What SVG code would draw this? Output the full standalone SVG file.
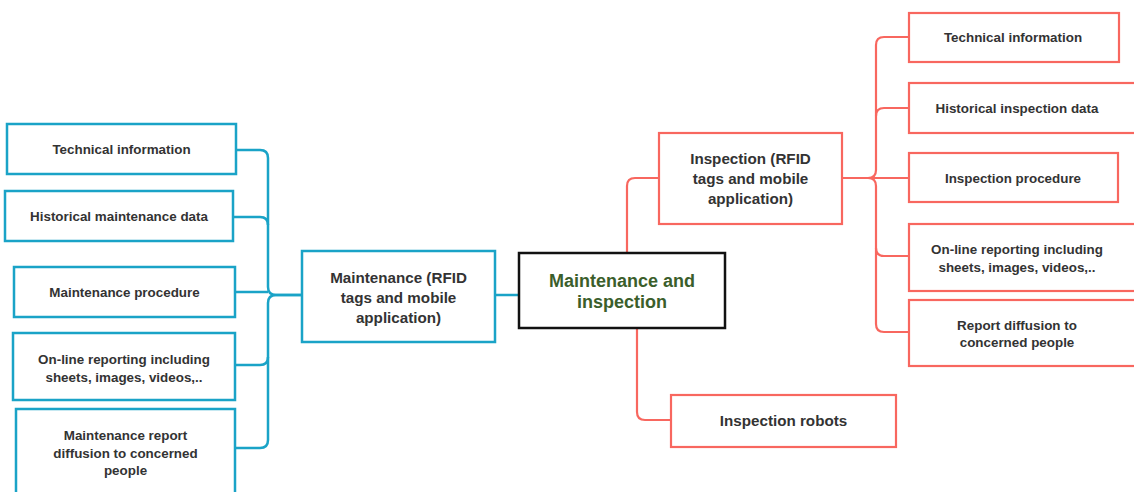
<svg xmlns="http://www.w3.org/2000/svg" width="1134" height="492" viewBox="0 0 1134 492">
<style>
.bg{fill:#ffffff}
.bb{fill:#fff;stroke:#1AA3C7;stroke-width:2.5}
.rb{fill:#fff;stroke:#F8675F;stroke-width:2.2}
.cb{fill:#fff;stroke:#111;stroke-width:2.5}
.bl{fill:none;stroke:#1AA3C7;stroke-width:2.5}
.rl{fill:none;stroke:#F8675F;stroke-width:2.2}
text{font-family:"Liberation Sans",Arial,sans-serif;font-weight:bold;fill:#333;text-anchor:middle}
.s{font-size:13.4px}
.m{font-size:15.2px}
.c{font-size:18px;fill:#3B5E2B}
</style>
<rect class="bg" x="0" y="0" width="1134" height="492"/>
<g id="connectors">
<path class="bl" d="M302 295 H276 Q268 295 268 287 V158 Q268 150 260 150 H236"/>
<path class="bl" d="M268 225 Q268 217 260 217 H233"/>
<path class="bl" d="M268 292 H235"/>
<path class="bl" d="M302 295 H276 Q268 295 268 303 V440 Q268 448 260 448 H235"/>
<path class="bl" d="M268 357 Q268 365 260 365 H235"/>
<path class="bl" d="M495 295 H519"/>
<path class="rl" d="M627 253 V186 Q627 178 635 178 H659"/>
<path class="rl" d="M637 328 V412 Q637 420 645 420 H671"/>
<path class="rl" d="M842 178 H868 Q876 178 876 170 V45 Q876 37 884 37 H909"/>
<path class="rl" d="M876 116 Q876 108 884 108 H909"/>
<path class="rl" d="M842 178 H909"/>
<path class="rl" d="M842 178 H868 Q876 178 876 186 V324 Q876 332 884 332 H909"/>
<path class="rl" d="M876 248 Q876 256 884 256 H909"/>
</g>
<g id="central">
<rect class="cb" x="519" y="253" width="206" height="75"/>
<text class="c" x="622" y="287">Maintenance and</text>
<text class="c" x="622" y="308">inspection</text>
</g>
<g id="maintenance">
<rect class="bb" x="302" y="251" width="193" height="91"/>
<text class="m" x="398.5" y="283">Maintenance (RFID</text>
<text class="m" x="398.5" y="303">tags and mobile</text>
<text class="m" x="398.5" y="323">application)</text>
</g>
<g id="m-tech">
<rect class="bb" x="7" y="124" width="229" height="50"/>
<text class="s" x="121.5" y="154">Technical information</text>
</g>
<g id="m-hist">
<rect class="bb" x="5" y="191" width="228" height="50"/>
<text class="s" x="119" y="221">Historical maintenance data</text>
</g>
<g id="m-proc">
<rect class="bb" x="14" y="267" width="221" height="50"/>
<text class="s" x="124.5" y="297">Maintenance procedure</text>
</g>
<g id="m-online">
<rect class="bb" x="13" y="333" width="222" height="67"/>
<text class="s" x="124" y="364">On-line reporting including</text>
<text class="s" x="124" y="382">sheets, images, videos,..</text>
</g>
<g id="m-report">
<rect class="bb" x="16" y="409" width="219" height="90"/>
<text class="s" x="125.5" y="440">Maintenance report</text>
<text class="s" x="125.5" y="458">diffusion to concerned</text>
<text class="s" x="125.5" y="475">people</text>
</g>
<g id="inspection">
<rect class="rb" x="659" y="133" width="183" height="91"/>
<text class="m" x="750.5" y="164">Inspection (RFID</text>
<text class="m" x="750.5" y="184">tags and mobile</text>
<text class="m" x="750.5" y="204">application)</text>
</g>
<g id="robots">
<rect class="rb" x="671" y="395" width="225" height="52"/>
<text class="m" x="783.5" y="426">Inspection robots</text>
</g>
<g id="i-tech">
<rect class="rb" x="909" y="13" width="210" height="49"/>
<text class="s" x="1013" y="42">Technical information</text>
</g>
<g id="i-hist">
<rect class="rb" x="909" y="83" width="228" height="50"/>
<text class="s" x="1017" y="113">Historical inspection data</text>
</g>
<g id="i-proc">
<rect class="rb" x="909" y="153" width="209" height="49"/>
<text class="s" x="1013" y="183">Inspection procedure</text>
</g>
<g id="i-online">
<rect class="rb" x="909" y="224" width="228" height="67"/>
<text class="s" x="1017" y="254">On-line reporting including</text>
<text class="s" x="1017" y="272">sheets, images, videos,..</text>
</g>
<g id="i-report">
<rect class="rb" x="909" y="300" width="228" height="66"/>
<text class="s" x="1017" y="330">Report diffusion to</text>
<text class="s" x="1017" y="347">concerned people</text>
</g>
</svg>
